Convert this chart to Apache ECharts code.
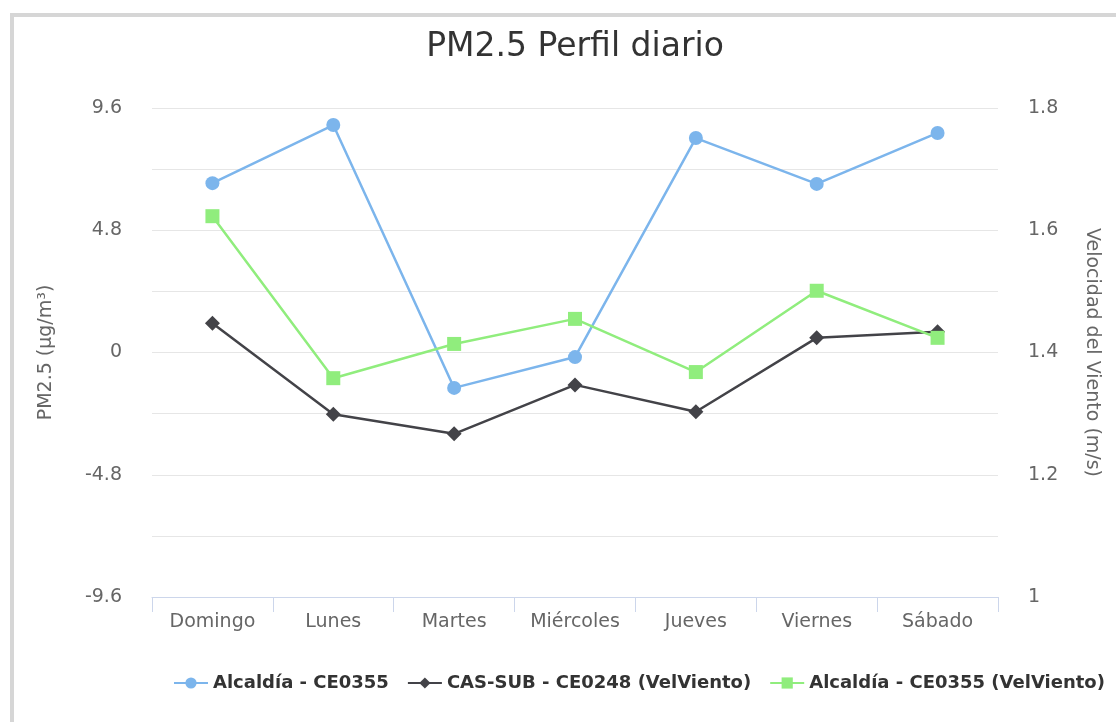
<!DOCTYPE html>
<html><head><meta charset="utf-8">
<script src="https://cdn.jsdelivr.net/npm/echarts@6/dist/echarts.min.js"></script>
<style>html,body{margin:0;padding:0;background:#fff;}#c{width:1116px;height:722px;}</style>
</head><body><div id="c"></div>
<script>
const categories = ['Domingo','Lunes','Martes','Miércoles','Jueves','Viernes','Sábado'];
const pm25Alcaldia = [6.65, 8.93, -1.39, -0.18, 8.42, 6.62, 8.62];
const vientoCasSub = [1.448, 1.299, 1.267, 1.347, 1.303, 1.424, 1.434];
const vientoAlcaldia = [1.623, 1.358, 1.414, 1.455, 1.368, 1.501, 1.424];
const seriesNames = ['Alcaldía - CE0355','CAS-SUB - CE0248 (VelViento)','Alcaldía - CE0355 (VelViento)'];

const font = 'DejaVu Sans';
const chart = echarts.init(document.getElementById('c'));
chart.setOption({
  animation:false,
  backgroundColor:'#fff',
  graphic:[{type:'rect',shape:{x:12,y:15,width:1200,height:800},style:{fill:'none',stroke:'#d6d6d6',lineWidth:4},silent:true}],
  title:{text:'PM2.5 Perfil diario',left:570,textAlign:'center',top:26,textStyle:{fontFamily:font,fontSize:33,fontWeight:'normal',color:'#333'}},
  legend:{left:168,top:669,itemGap:18,itemWidth:34,itemHeight:14,
    textStyle:{fontFamily:font,fontSize:18,fontWeight:'bold',color:'#333'},data:seriesNames},
  grid:{left:152,right:118,top:108,bottom:125},
  xAxis:{type:'category',data:categories,boundaryGap:true,
    axisLine:{onZero:false,lineStyle:{color:'#ccd6eb',width:1}},
    axisTick:{show:true,length:15,lineStyle:{color:'#ccd6eb'}},
    axisLabel:{fontFamily:font,fontSize:19,color:'#666',margin:16}},
  yAxis:[
    {type:'value',min:-9.6,max:9.6,interval:4.8,
     name:'PM2.5 (µg/m³)',nameLocation:'middle',nameGap:96,nameRotate:90,
     nameTextStyle:{fontFamily:font,fontSize:19,color:'#666'},
     axisLabel:{fontFamily:font,fontSize:19,color:'#666',margin:30},
     axisLine:{show:false},axisTick:{show:false},
     splitLine:{lineStyle:{color:'#e6e6e6',width:1}},
     minorTick:{show:false,splitNumber:2},
     minorSplitLine:{show:true,lineStyle:{color:'#e6e6e6',width:1}}},
    {type:'value',min:1,max:1.8,interval:0.2,position:'right',
     name:'Velocidad del Viento (m/s)',nameLocation:'middle',nameGap:84,nameRotate:-90,
     nameTextStyle:{fontFamily:font,fontSize:19,color:'#666'},
     axisLabel:{fontFamily:font,fontSize:19,color:'#666',margin:30},
     axisLine:{show:false},axisTick:{show:false},splitLine:{show:false}}
  ],
  series:[
    {name:seriesNames[0],type:'line',yAxisIndex:0,data:pm25Alcaldia,symbol:'circle',symbolSize:14,
     itemStyle:{color:'#7cb5ec'},lineStyle:{width:2.5,color:'#7cb5ec'}},
    {name:seriesNames[1],type:'line',yAxisIndex:1,data:vientoCasSub,symbol:'diamond',symbolSize:15,
     itemStyle:{color:'#434348'},lineStyle:{width:2.5,color:'#434348'}},
    {name:seriesNames[2],type:'line',yAxisIndex:1,data:vientoAlcaldia,symbol:'rect',symbolSize:14,
     itemStyle:{color:'#90ed7d'},lineStyle:{width:2.5,color:'#90ed7d'}}
  ]
});
</script></body></html>
